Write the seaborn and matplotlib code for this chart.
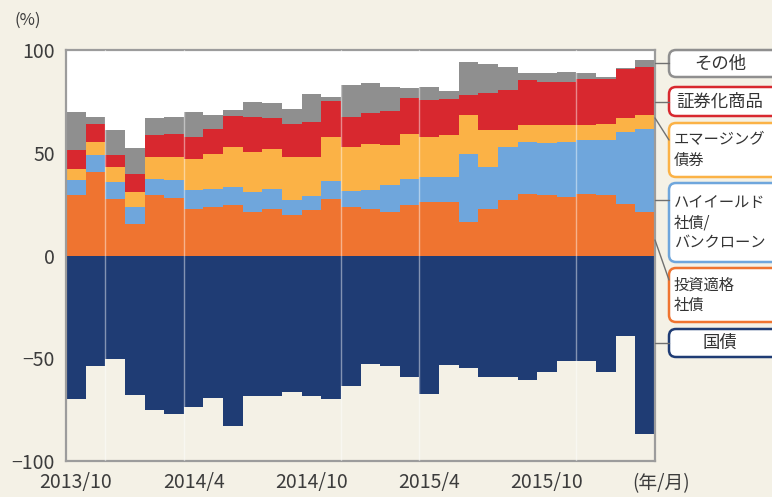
import pandas as pd
import matplotlib
matplotlib.use('Agg')
import matplotlib.pyplot as plt
import seaborn as sns
from matplotlib.patches import FancyBboxPatch
from matplotlib.lines import Line2D
from matplotlib.transforms import IdentityTransform

# 月 (2013/10 - 2016/3)
months = [f"{p.year}/{p.month}" for p in pd.period_range('2013-10', periods=30, freq='M')]
tick_labels = ['2013/10', '2014/4', '2014/10', '2015/4', '2015/10']

# 各資産の構成比 (%)
kokusai = [-69.9, -53.7, -50.4, -68.0, -75.3, -76.9, -73.5, -69.1, -82.9, -68.6,
           -68.6, -66.3, -68.6, -69.9, -63.4, -52.8, -53.7, -59.3, -67.2, -53.2,
           -54.8, -59.0, -59.3, -60.7, -56.9, -51.2, -51.2, -56.9, -39.3, -86.7]
toshi_tekikaku = [29.3, 40.7, 27.6, 15.4, 29.3, 28.1, 22.8, 23.6, 24.4, 21.1,
                  22.8, 19.5, 22.0, 27.4, 23.6, 22.8, 21.1, 24.4, 26.0, 26.0,
                  16.3, 22.8, 26.8, 30.1, 29.3, 28.5, 30.1, 29.3, 25.2, 21.1]
high_yield = [7.3, 8.1, 8.2, 8.2, 8.1, 8.5, 8.9, 8.9, 8.9, 9.8,
              9.7, 7.7, 6.9, 8.8, 7.7, 9.3, 13.0, 13.0, 12.2, 12.2,
              33.3, 20.3, 26.0, 25.2, 25.5, 26.8, 26.0, 26.8, 35.0, 40.7]
emerging = [5.7, 6.5, 7.3, 7.3, 10.6, 11.4, 15.5, 17.1, 19.5, 19.5,
            19.5, 20.8, 19.1, 21.5, 21.5, 22.4, 19.6, 21.9, 19.5, 20.3,
            18.7, 17.9, 8.2, 8.1, 8.6, 8.1, 7.3, 8.1, 6.5, 6.5]
shoken = [8.9, 8.9, 5.7, 8.9, 10.5, 11.0, 10.5, 12.2, 15.0, 17.1,
          14.7, 16.0, 17.0, 17.5, 14.7, 14.6, 16.8, 17.1, 17.9, 17.5,
          9.7, 17.9, 19.5, 22.0, 21.2, 21.2, 22.3, 21.5, 23.9, 23.6]
sonota = [18.7, 3.3, 12.2, 12.7, 8.2, 8.5, 12.3, 6.5, 2.9, 7.3,
          7.3, 7.5, 13.7, 2.0, 15.4, 14.6, 11.6, 4.9, 6.5, 4.0,
          16.3, 14.3, 11.0, 3.2, 4.0, 4.8, 2.9, 1.0, 0.4, 3.2]

series = ['投資適格社債', 'ハイイールド社債/バンクローン', 'エマージング債券', '証券化商品', 'その他']
colors = {'投資適格社債': '#ef7430', 'ハイイールド社債/バンクローン': '#6fa6dc',
          'エマージング債券': '#fbb246', '証券化商品': '#d8282f', 'その他': '#8f8f8f',
          '国債': '#1f3c74'}

df = pd.DataFrame({'month': months, '国債': kokusai,
                   '投資適格社債': toshi_tekikaku, 'ハイイールド社債/バンクローン': high_yield,
                   'エマージング債券': emerging, '証券化商品': shoken, 'その他': sonota})
cum = df[series].cumsum(axis=1)
cum['month'] = df['month']

bg = '#f4f1e6'
sns.set_style('white')
plt.rcParams['font.family'] = ['Noto Sans CJK JP', 'DejaVu Sans']

W, H = 772, 497
fig = plt.figure(figsize=(W / 100, H / 100), dpi=100, facecolor=bg)
ax = fig.add_axes([66 / W, 1 - 461 / H, (655 - 66) / W, (461 - 50) / H])
ax.set_facecolor(bg)
ax.axhspan(0, 100, facecolor='white', zorder=0.5, lw=0)

# 積み上げ (上から順に重ねる)
for s in series[::-1]:
    sns.barplot(data=cum, x='month', y=s, order=months, color=colors[s], saturation=1,
                width=1.0, linewidth=0, errorbar=None, ax=ax, zorder=2)
sns.barplot(data=df, x='month', y='国債', order=months, color=colors['国債'], saturation=1,
            width=1.0, linewidth=0, errorbar=None, ax=ax, zorder=2)

for xv in [1.5, 5.5, 13.5, 17.5, 25.5]:
    ax.axvline(xv, color='white', lw=1, alpha=0.45, zorder=5)

ax.set_xlim(-0.5, 29.5)
ax.set_ylim(-100, 100)
ax.set_yticks([-100, -50, 0, 50, 100])
ax.set_xticks([0, 6, 12, 18, 24])
ax.set_xticklabels(tick_labels)
ax.set_xlabel('')
ax.set_ylabel('')
ax.tick_params(length=0, labelsize=14, colors='#3c3c3c', pad=8)
for sp in ax.spines.values():
    sp.set_color('#9c9c9c')
    sp.set_linewidth(1.6)

fig.text(28 / W, 1 - 20 / H, '(%)', fontsize=12, color='#3c3c3c', ha='center', va='center')
fig.text(661 / W, 1 - 484 / H, '(年/月)', fontsize=13.5, color='#3c3c3c', ha='center', va='center')

# 凡例ボックス
tr = IdentityTransform()
legend = [
    ('その他', 50, 77, 63, 63, colors['その他'], 'center'),
    ('証券化商品', 87, 116, 102, 102, colors['証券化商品'], 'center'),
    ('エマージング\n債券', 123, 177, 118, 140, colors['エマージング債券'], 'left'),
    ('ハイイールド\n社債/\nバンクローン', 183, 262, 200, 200, colors['ハイイールド社債/バンクローン'], 'left'),
    ('投資適格\n社債', 268, 322, 240, 280, colors['投資適格社債'], 'left'),
    ('国債', 329, 357, 343, 343, colors['国債'], 'center'),
]
for label, y0, y1, ya, yb, c, al in legend:
    box = FancyBboxPatch((669, H - y1), 120, y1 - y0, boxstyle='round,pad=0,rounding_size=7',
                         transform=tr, fc='white', ec=c, lw=1.8)
    fig.patches.append(box)
    fig.lines.append(Line2D([655, 669], [H - ya, H - yb], transform=tr, color='#707070', lw=1))
    xt = 720 if al == 'center' else 674
    fs = 12.5 if al == 'center' else 11
    fig.text(xt / W, 1 - (y0 + y1) / 2 / H, label, fontsize=fs, color='#333333',
             ha=al, va='center', linespacing=1.25)

fig.savefig('out.png', dpi=100, facecolor=bg)
